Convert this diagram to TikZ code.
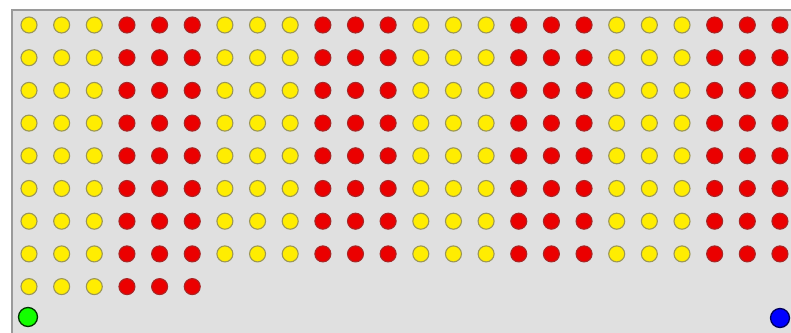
\documentclass[tikz,border=0pt]{standalone}
\begin{document}
\begin{tikzpicture}[x=1pt,y=-1pt,
  dot/.style={circle,inner sep=0pt,minimum size=16pt,line width=1.1pt},
  ydot/.style={dot,fill=yellow!95!orange,draw=yellow!50!black!90},
  rdot/.style={dot,fill=red!92!black,draw=red!60!black!85},
  gdot/.style={circle,inner sep=0pt,minimum size=19pt,line width=1.3pt,fill=green!90!lime,draw=green!20!black},
  bdot/.style={circle,inner sep=0pt,minimum size=19pt,line width=1.3pt,fill=blue,draw=blue!35!black}]
\definecolor{panel}{HTML}{E0E0E0}
\definecolor{edge}{HTML}{9A9A9A}
\fill[white] (0,0) rectangle (791,332);
\useasboundingbox (0,0) rectangle (791,332);
\fill[panel] (12,10) rectangle (795,336);
\draw[edge,line width=1.8pt] (12,336) -- (12,10) -- (795,10);
\foreach \r in {0,...,7}{
  \foreach \c in {0,...,23}{
    \pgfmathtruncatemacro{\grp}{mod(floor(\c/3),2)}
    \ifnum\grp=0
      \node[ydot] (d-\r-\c) at ({29+32.65*\c},{25+32.7*\r}) {};
    \else
      \node[rdot] (d-\r-\c) at ({29+32.65*\c},{25+32.7*\r}) {};
    \fi
  }
}
\foreach \c in {0,...,5}{
  \pgfmathtruncatemacro{\grp}{mod(floor(\c/3),2)}
  \ifnum\grp=0
    \node[ydot] (d-8-\c) at ({29+32.65*\c},{25+32.7*8}) {};
  \else
    \node[rdot] (d-8-\c) at ({29+32.65*\c},{25+32.7*8}) {};
  \fi
}
\node[gdot] (start) at (28,317) {};
\node[bdot] (goal) at (780,318) {};
\end{tikzpicture}
\end{document}
